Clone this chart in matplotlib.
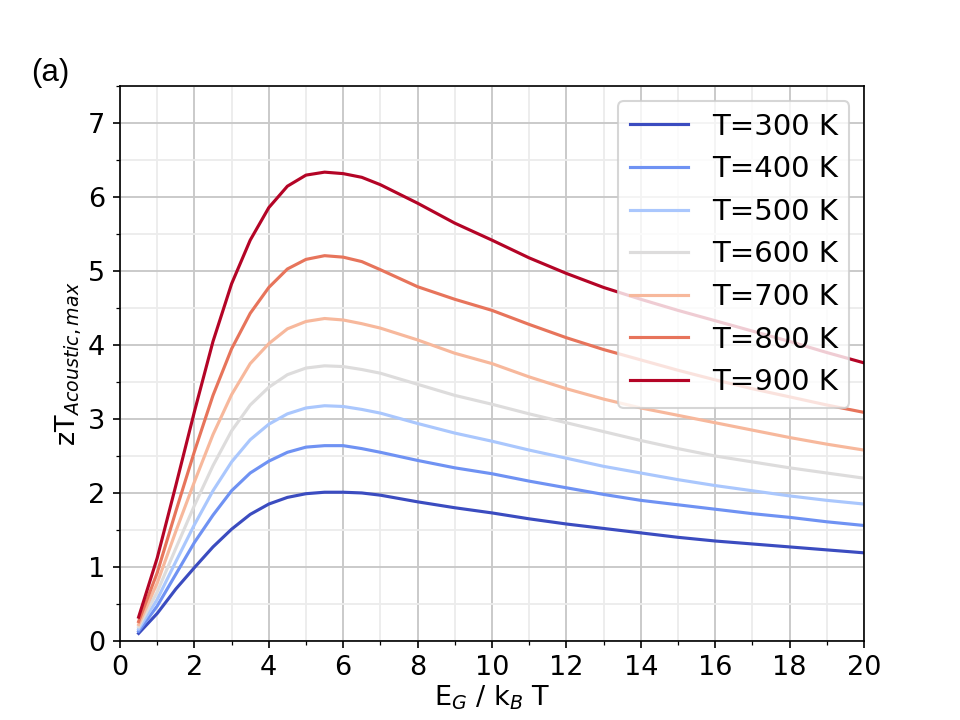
import matplotlib
matplotlib.use("Agg")
import matplotlib.pyplot as plt
import numpy as np
from matplotlib.ticker import MultipleLocator

x_vals = [0.5, 1, 1.5, 2, 2.5, 3, 3.5, 4, 4.5, 5, 5.5, 6, 6.5, 7,
          8, 9, 10, 11, 12, 13, 14, 15, 16, 17, 18, 19, 20]

temps = [300, 400, 500, 600, 700, 800, 900]

zt_300 = [0.10, 0.37, 0.70, 0.99, 1.27, 1.51, 1.71, 1.85, 1.94, 1.99, 2.01, 2.01, 2.00, 1.97,
          1.88, 1.80, 1.73, 1.65, 1.58, 1.52, 1.46, 1.40, 1.35, 1.31, 1.27, 1.23, 1.19]
zt_400 = [0.13, 0.47, 0.90, 1.33, 1.70, 2.03, 2.27, 2.43, 2.55, 2.62, 2.64, 2.64, 2.60, 2.55,
          2.44, 2.34, 2.26, 2.16, 2.07, 1.98, 1.90, 1.84, 1.78, 1.72, 1.67, 1.61, 1.56]
zt_500 = [0.16, 0.56, 1.07, 1.57, 2.03, 2.42, 2.72, 2.93, 3.07, 3.15, 3.18, 3.17, 3.13, 3.08,
          2.94, 2.81, 2.70, 2.58, 2.47, 2.36, 2.27, 2.18, 2.10, 2.03, 1.96, 1.90, 1.85]
zt_600 = [0.19, 0.66, 1.25, 1.83, 2.37, 2.84, 3.19, 3.43, 3.60, 3.69, 3.72, 3.71, 3.67, 3.62,
          3.47, 3.32, 3.20, 3.07, 2.95, 2.83, 2.71, 2.60, 2.50, 2.42, 2.34, 2.27, 2.20]
zt_700 = [0.22, 0.78, 1.48, 2.15, 2.79, 3.33, 3.75, 4.02, 4.22, 4.32, 4.36, 4.34, 4.29, 4.23,
          4.07, 3.89, 3.75, 3.57, 3.41, 3.27, 3.15, 3.05, 2.95, 2.85, 2.75, 2.66, 2.58]
zt_800 = [0.26, 0.92, 1.75, 2.56, 3.32, 3.95, 4.43, 4.78, 5.03, 5.16, 5.21, 5.19, 5.13, 5.02,
          4.79, 4.62, 4.47, 4.28, 4.10, 3.94, 3.80, 3.66, 3.53, 3.41, 3.30, 3.19, 3.09]
zt_900 = [0.32, 1.12, 2.10, 3.10, 4.05, 4.83, 5.42, 5.86, 6.15, 6.30, 6.34, 6.32, 6.27, 6.17,
          5.92, 5.65, 5.42, 5.18, 4.97, 4.78, 4.62, 4.47, 4.33, 4.19, 4.05, 3.90, 3.76]

series = [zt_300, zt_400, zt_500, zt_600, zt_700, zt_800, zt_900]

fig, ax = plt.subplots(figsize=(6.4, 4.8), dpi=150)
cmap = plt.get_cmap("coolwarm")
colors = cmap(np.linspace(0, 1, len(temps)))

for T, y, c in zip(temps, series, colors):
    ax.plot(x_vals, y, color=c, lw=1.5, label=f"T={T} K")

ax.set_xlim(0, 20)
ax.set_ylim(0, 7.5)
ax.xaxis.set_major_locator(MultipleLocator(2))
ax.xaxis.set_minor_locator(MultipleLocator(1))
ax.yaxis.set_major_locator(MultipleLocator(1))
ax.yaxis.set_minor_locator(MultipleLocator(0.5))
ax.grid(which="major", color="#c8c8c8", lw=0.9)
ax.grid(which="minor", color="#ececec", lw=0.9)
ax.set_axisbelow(True)
ax.tick_params(labelsize=13)

ax.set_xlabel(r"E$_G$ / k$_B$ T", fontsize=13, labelpad=1)
ax.set_ylabel(r"zT$_{Acoustic, max}$", fontsize=13, labelpad=2)

ax.legend(loc="upper right", fontsize=14)

fig.text(0.032, 0.8875, "(a)", fontsize=15, family="Liberation Sans", va="baseline")

fig.savefig("out.png", dpi=150)
